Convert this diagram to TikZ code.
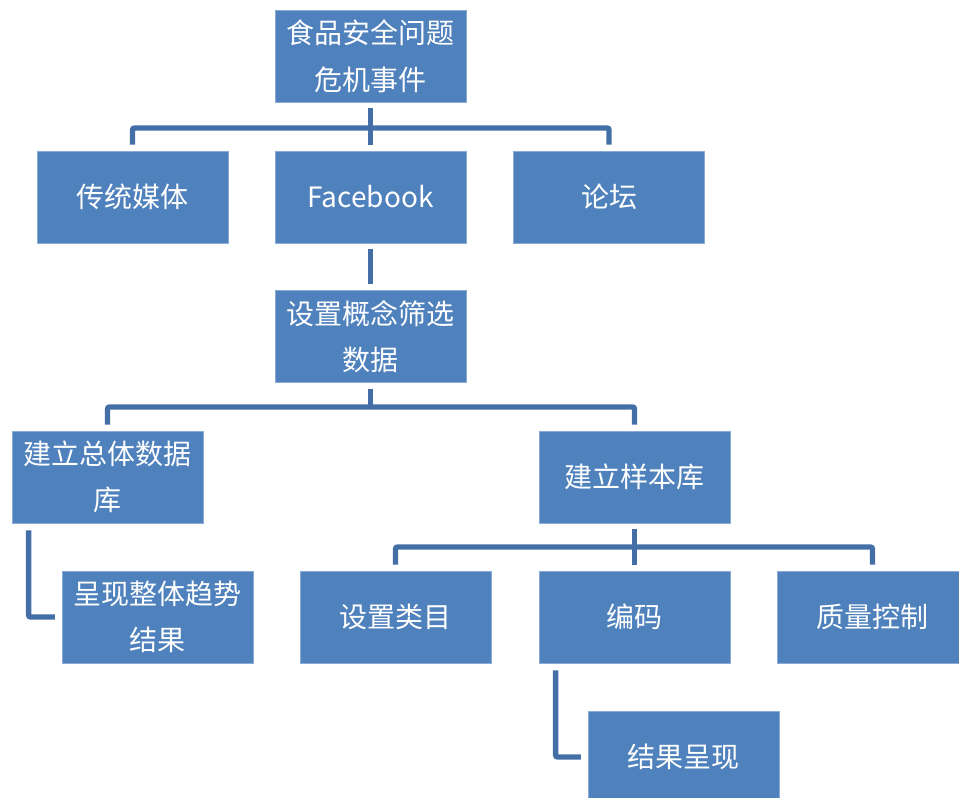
\documentclass[tikz,border=0pt]{standalone}
\usepackage{fontspec}
\newfontfamily\cjk{Noto Sans CJK SC}
\usetikzlibrary{calc}
\definecolor{boxfill}{RGB}{79,129,189}
\definecolor{boxedge}{RGB}{140,170,214}
\definecolor{connc}{RGB}{68,111,166}
\tikzset{
  box/.style={rectangle, fill=boxfill, draw=boxedge, line width=0.6pt,
    minimum width=143.25pt, minimum height=69pt, inner sep=0pt,
    text=white, align=center, font=\cjk\fontsize{21}{35}\selectfont},
  conn/.style={draw=connc, line width=4pt, rounded corners=1.5pt}
}
\begin{document}
\begin{tikzpicture}[x=0.75pt,y=-0.75pt]
\useasboundingbox (0,0) rectangle (959,798);
\node[box] (top) at (370.5,56) {食品安全问题\\危机事件};
\node[box] (trad) at (132.5,197) {传统媒体};
\node[box] (fb) at (370.5,197) {Facebook};
\node[box] (forum) at (609,197) {论坛};
\node[box] (filt) at (370.5,336.5) {设置概念筛选\\数据};
\node[box] (total) at (107.5,477) {建立总体数据\\库};
\node[box] (sample) at (634.5,477) {建立样本库};
\node[box] (trend) at (157.5,617) {呈现整体趋势\\结果};
\node[box] (cat) at (395.5,617) {设置类目};
\node[box] (code) at (634.5,617) {编码};
\node[box] (qc) at (872.5,617) {质量控制};
\node[box] (res) at (683.5,757) {结果呈现};

\coordinate (bus1) at (0,128);
\coordinate (bus2) at (0,407);
\coordinate (bus3) at (0,547);

% tree 1
\draw[conn] ([yshift=-4.5pt]top.south) -- (top.south |- bus1);
\draw[conn] ([yshift=4.5pt]trad.north) -- (trad.north |- bus1) -- (forum.north |- bus1) -- ([yshift=4.5pt]forum.north);
\draw[conn] (fb.north |- bus1) -- ([yshift=4.5pt]fb.north);
% fb to filter
\draw[conn] ([yshift=-4.5pt]fb.south) -- ([yshift=4.5pt]filt.north);
% tree 2
\draw[conn] ([yshift=-4.5pt]filt.south) -- (filt.south |- bus2);
\draw[conn] ([yshift=4.5pt]total.north) -- (total.north |- bus2) -- (sample.north |- bus2) -- ([yshift=4.5pt]sample.north);
% tree 3
\draw[conn] ([yshift=-4.5pt]sample.south) -- ([yshift=4.5pt]code.north);
\draw[conn] ([yshift=4.5pt]cat.north) -- (cat.north |- bus3) -- (qc.north |- bus3) -- ([yshift=4.5pt]qc.north);
% elbows
\coordinate (e1) at ($(total.south west)+(17,7)$);
\draw[conn] (e1) |- ([xshift=-5pt]trend.west);
\coordinate (e2) at ($(code.south west)+(17,7)$);
\draw[conn] (e2) |- ([xshift=-5pt]res.west);
\end{tikzpicture}
\end{document}
